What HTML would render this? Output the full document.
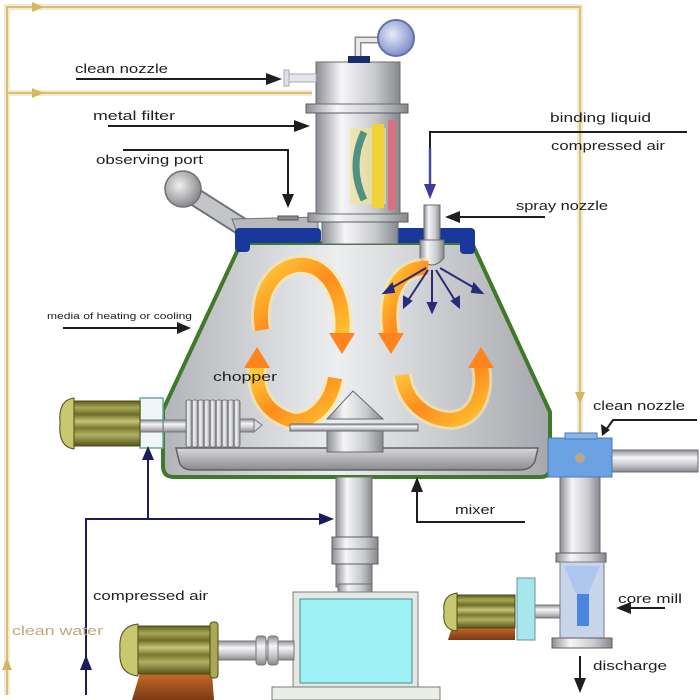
<!DOCTYPE html>
<html><head><meta charset="utf-8"><style>
html,body{margin:0;padding:0;background:#fff;}
svg{display:block}
text{font-family:"Liberation Sans",sans-serif;fill:#1e1e1e;}
</style></head><body>
<svg width="700" height="700" viewBox="0 0 700 700" xmlns="http://www.w3.org/2000/svg">
<defs>
<linearGradient id="metal" x1="0" x2="1" y1="0" y2="0">
 <stop offset="0" stop-color="#8c8e94"/>
 <stop offset="0.3" stop-color="#f6f6f8"/>
 <stop offset="0.7" stop-color="#c9cacd"/>
 <stop offset="1" stop-color="#86888d"/>
</linearGradient>
<linearGradient id="metalV" x1="0" x2="0" y1="0" y2="1">
 <stop offset="0" stop-color="#8c8e94"/>
 <stop offset="0.35" stop-color="#f6f6f8"/>
 <stop offset="0.7" stop-color="#c4c5c8"/>
 <stop offset="1" stop-color="#86888d"/>
</linearGradient>
<linearGradient id="vessel" x1="0" x2="1" y1="0" y2="0">
 <stop offset="0" stop-color="#b2b4b9"/>
 <stop offset="0.45" stop-color="#eceef0"/>
 <stop offset="1" stop-color="#a6a8ad"/>
</linearGradient>
<linearGradient id="bowl" x1="0" x2="0" y1="0" y2="1">
 <stop offset="0" stop-color="#d8d8da"/>
 <stop offset="1" stop-color="#8a8b8e"/>
</linearGradient>
<linearGradient id="og" x1="0" y1="0" x2="1" y2="1">
 <stop offset="0" stop-color="#ffcc3a"/>
 <stop offset="0.5" stop-color="#ff8c1c"/>
 <stop offset="1" stop-color="#ffc030"/>
</linearGradient>
<linearGradient id="olive" x1="0" x2="0" y1="0" y2="1">
 <stop offset="0" stop-color="#5e5c1a"/>
 <stop offset="0.15" stop-color="#a8a858"/>
 <stop offset="0.3" stop-color="#6e6c26"/>
 <stop offset="0.45" stop-color="#c4c47a"/>
 <stop offset="0.6" stop-color="#7a782e"/>
 <stop offset="0.75" stop-color="#b0b064"/>
 <stop offset="1" stop-color="#56541a"/>
</linearGradient>
<linearGradient id="brown" x1="0" x2="0" y1="0" y2="1">
 <stop offset="0" stop-color="#c86a2a"/>
 <stop offset="1" stop-color="#7a3a14"/>
</linearGradient>
<radialGradient id="ball" cx="0.4" cy="0.4" r="0.6">
 <stop offset="0" stop-color="#e6ecfa"/>
 <stop offset="1" stop-color="#8290cc"/>
</radialGradient>
<radialGradient id="gball" cx="0.4" cy="0.4" r="0.6">
 <stop offset="0" stop-color="#f0f0f0"/>
 <stop offset="1" stop-color="#8c8c90"/>
</radialGradient>
</defs>

<!-- tan clean water lines -->
<g fill="none" stroke-linejoin="miter">
 <path d="M7,695 L7,7 L580,7 L580,436 M7,93 L312,93" stroke="#f4ead0" stroke-width="6"/>
 <path d="M7,695 L7,7 L580,7 L580,436 M7,93 L312,93" stroke="#d9c07a" stroke-width="2"/>
</g>
<g fill="#d4b860">
 <polygon points="44,7 32,2 32,12"/>
 <polygon points="44,93 32,88 32,98"/>
 <polygon points="580,404 575,392 585,392"/>
 <polygon points="7,658 2,670 12,670"/>
</g>

<!-- handle / observing port -->
<path d="M184,190 L244,228" stroke="#707276" stroke-width="19" stroke-linecap="round"/>
<path d="M184,190 L244,228" stroke="#c4c5c8" stroke-width="15" stroke-linecap="round"/>
<circle cx="183" cy="189" r="18" fill="url(#gball)" stroke="#6e7074" stroke-width="1.5"/>
<polygon points="232,219 318,217 318,230 236,230" fill="#b8b9bc" stroke="#6e7074"/>
<rect x="278" y="216" width="20" height="4" fill="#8a8b8e" stroke="#555"/>

<!-- vessel -->
<path d="M241,243 L472,243 L550,412 L550,468 Q550,477 540,477 L174,477 Q163,477 163,466 L163,410 Z" fill="url(#vessel)" stroke="#3f7a2a" stroke-width="4"/>
<path d="M176,448 L538,448 L535,461 Q531,470 520,470 L193,470 Q181,470 179,461 Z" fill="url(#bowl)" stroke="#5e6064" stroke-width="1.5"/>

<!-- blue lid -->
<g fill="#18389c">
 <rect x="235" y="228" width="86" height="15" rx="4"/>
 <rect x="235" y="234" width="15" height="18" rx="4"/>
 <rect x="394" y="228" width="81" height="15" rx="4"/>
 <rect x="460" y="234" width="15" height="20" rx="4"/>
</g>

<!-- filter column -->
<rect x="322" y="220" width="76" height="24" fill="url(#metal)" stroke="#6a6c70"/>
<rect x="308" y="213" width="100" height="9" fill="url(#metal)" stroke="#5a5c60"/>
<rect x="316" y="112" width="84" height="102" fill="url(#metal)" stroke="#6a6c70"/>
<rect x="350" y="128" width="36" height="76" fill="#f3e48a" opacity="0.6"/>
<path d="M364,132 Q348,166 364,200" stroke="#4e9286" stroke-width="7" fill="none"/>
<rect x="372" y="124" width="12" height="84" fill="#f0d238"/>
<rect x="388" y="120" width="8" height="90" fill="#d87080"/>
<rect x="306" y="104" width="102" height="9" fill="url(#metal)" stroke="#5a5c60"/>
<rect x="316" y="62" width="84" height="42" fill="url(#metal)" stroke="#6a6c70"/>
<path d="M358,58 L358,40 L380,40" stroke="#8a8c90" stroke-width="7" fill="none"/>
<path d="M358,58 L358,40 L380,40" stroke="#e8e8ea" stroke-width="4" fill="none"/>
<rect x="348" y="56" width="22" height="7" fill="#1a2a6a"/>
<circle cx="396" cy="38" r="18" fill="url(#ball)" stroke="#6670a8" stroke-width="2"/>
<!-- small clean nozzle top -->
<rect x="288" y="74" width="28" height="8" fill="#e4e6ec" stroke="#a8aab4"/>
<rect x="284" y="70" width="5" height="16" fill="#dfe1e8" stroke="#a8aab4"/>

<!-- spray nozzle -->
<rect x="424" y="205" width="16" height="38" fill="url(#metal)" stroke="#6a6c70"/>
<path d="M420,240 L444,240 L444,258 Q432,272 420,258 Z" fill="url(#metal)" stroke="#6a6c70"/>

<!-- orange circulation arrows -->
<g fill="none" stroke-linecap="butt">
 <g stroke="#ffe9a0" stroke-width="20" opacity="0.6">
  <path d="M262,330 C255,285 282,262 305,265 C330,268 346,300 342,335"/>
  <path d="M335,378 C330,410 305,425 290,420 C265,412 255,392 257,366"/>
  <path d="M428,268 C400,266 384,292 391,335"/>
  <path d="M402,375 C406,405 430,420 452,420 C475,418 486,395 481,366"/>
 </g>
 <g stroke="url(#og)" stroke-width="14">
  <path d="M262,330 C255,285 282,262 305,265 C330,268 346,300 342,335"/>
  <path d="M335,378 C330,410 305,425 290,420 C265,412 255,392 257,366"/>
  <path d="M428,268 C400,266 384,292 391,335"/>
  <path d="M402,375 C406,405 430,420 452,420 C475,418 486,395 481,366"/>
 </g>
</g>
<g fill="#ff8420">
 <polygon points="329,333 355,333 342,354"/>
 <polygon points="244,368 270,368 257,347"/>
 <polygon points="378,333 404,333 391,354"/>
 <polygon points="468,368 494,368 481,347"/>
</g>

<!-- spray arrows -->
<g stroke="#2a2a7a" stroke-width="2" fill="#2a2a7a">
 <line x1="426" y1="268" x2="388" y2="290"/><polygon points="384,293 392,284 394,292"/>
 <line x1="428" y1="270" x2="407" y2="302"/><polygon points="404,307 404,297 411,301"/>
 <line x1="432" y1="270" x2="432" y2="307"/><polygon points="432,312 428,303 436,303"/>
 <line x1="436" y1="270" x2="456" y2="302"/><polygon points="459,307 452,301 459,297"/>
 <line x1="440" y1="268" x2="478" y2="290"/><polygon points="482,293 472,292 474,284"/>
</g>

<!-- mixer -->
<polygon points="353,391 327,419 383,419" fill="url(#metal)" stroke="#6a6c70"/>
<rect x="290" y="424" width="128" height="7" fill="url(#metalV)" stroke="#6a6c70"/>
<rect x="327" y="431" width="56" height="21" fill="url(#metal)" stroke="#6a6c70"/>

<!-- chopper -->
<rect x="140" y="420" width="50" height="12" fill="url(#metalV)" stroke="#777"/>
<g fill="url(#metal)" stroke="#666" stroke-width="0.8">
 <rect x="186" y="400" width="6" height="47" rx="2"/>
 <rect x="192" y="400" width="6" height="47" rx="2"/>
 <rect x="198" y="400" width="6" height="47" rx="2"/>
 <rect x="204" y="400" width="6" height="47" rx="2"/>
 <rect x="210" y="400" width="6" height="47" rx="2"/>
 <rect x="216" y="400" width="6" height="47" rx="2"/>
 <rect x="222" y="400" width="6" height="47" rx="2"/>
 <rect x="228" y="400" width="6" height="47" rx="2"/>
 <rect x="234" y="400" width="6" height="47" rx="2"/>
</g>
<rect x="240" y="419" width="14" height="13" fill="url(#metalV)" stroke="#777"/>
<path d="M254,419 L262,425 L254,432 Z" fill="#ddd" stroke="#777"/>
<!-- chopper motor -->
<rect x="140" y="398" width="23" height="50" fill="#eef6f6" stroke="#6aa8a8" stroke-width="1.5"/>
<rect x="140" y="420" width="23" height="12" fill="url(#metalV)" stroke="#777"/>
<rect x="72" y="401" width="68" height="45" fill="url(#olive)" stroke="#4e4c16"/>
<path d="M74,398 Q58,400 60,423 Q58,447 74,449 Z" fill="#c8c870" stroke="#4e4c16"/>

<!-- shaft below vessel -->
<rect x="336" y="477" width="36" height="110" fill="url(#metal)" stroke="#6a6c70"/>
<rect x="332" y="537" width="46" height="27" fill="url(#metal)" stroke="#5a5c60"/>
<line x1="332" y1="549" x2="378" y2="549" stroke="#6a6c70"/>
<rect x="338" y="584" width="34" height="9" fill="url(#metal)" stroke="#6a6c70"/>

<!-- gearbox -->
<rect x="293" y="592" width="125" height="96" fill="#e4e8e4" stroke="#7a7c7a"/>
<rect x="300" y="599" width="112" height="84" fill="#9ef2f6" stroke="#4a8a8a"/>
<rect x="272" y="687" width="168" height="13" fill="#eaece6" stroke="#7a7c7a"/>

<!-- bottom-left motor -->
<rect x="216" y="641" width="78" height="19" fill="url(#metalV)" stroke="#777"/>
<rect x="256" y="636" width="10" height="29" rx="3" fill="url(#metalV)" stroke="#777"/>
<rect x="268" y="636" width="10" height="29" rx="3" fill="url(#metalV)" stroke="#777"/>
<polygon points="140,673 212,673 214,700 132,700" fill="url(#brown)"/>
<rect x="136" y="626" width="80" height="48" fill="url(#olive)" stroke="#4e4c16"/>
<rect x="210" y="622" width="8" height="56" rx="3" fill="#a8a858" stroke="#4e4c16"/>
<path d="M138,624 Q118,626 120,650 Q118,674 138,676 Z" fill="#c8c870" stroke="#4e4c16"/>

<!-- right side: clean nozzle block, pipes, core mill -->
<rect x="612" y="450" width="86" height="22" fill="url(#metalV)" stroke="#6a6c70"/>
<rect x="560" y="477" width="40" height="78" fill="url(#metal)" stroke="#6a6c70"/>
<rect x="556" y="553" width="50" height="9" fill="url(#metal)" stroke="#5a5c60"/>
<rect x="560" y="562" width="44" height="77" fill="#c8d4ea" stroke="#7a7c84"/>
<path d="M564,566 L600,566 L588,594 L576,594 Z" fill="#a8c0ee" opacity="0.8"/>
<rect x="577" y="594" width="12" height="32" fill="#4a86e0"/>
<rect x="552" y="638" width="60" height="10" fill="url(#metal)" stroke="#5a5c60"/>
<rect x="548" y="438" width="64" height="39" fill="#6aa2e4" stroke="#4a78b4"/>
<rect x="565" y="433" width="32" height="6" fill="#8ab4ec" stroke="#4a78b4"/>
<circle cx="580" cy="458" r="5" fill="#e0a860" opacity="0.7"/>
<!-- core mill motor -->
<rect x="535" y="605" width="25" height="13" fill="url(#metalV)" stroke="#777"/>
<rect x="517" y="578" width="18" height="62" fill="#a6e6ec" stroke="#5a9aa0"/>
<polygon points="452,627 515,627 515,640 448,640" fill="url(#brown)"/>
<rect x="455" y="595" width="60" height="33" fill="url(#olive)" stroke="#4e4c16"/>
<path d="M457,593 Q442,595 444,612 Q442,630 457,631 Z" fill="#c8c870" stroke="#4e4c16"/>

<!-- black label arrows -->
<g stroke="#1e1e1e" stroke-width="2" fill="none">
 <line x1="76" y1="79" x2="268" y2="79"/>
 <line x1="108" y1="126" x2="296" y2="126"/>
 <path d="M123,150 L288,150 L288,196"/>
 <path d="M687,132 L430,132 L430,150"/>
 <line x1="545" y1="217" x2="458" y2="217"/>
 <path d="M697,420 L613,420 L606,430"/>
 <line x1="63" y1="328" x2="178" y2="328"/>
 <path d="M525,522 L417,522 L417,490"/>
 <line x1="665" y1="608" x2="630" y2="608"/>
 <line x1="580" y1="656" x2="580" y2="680"/>
</g>
<line x1="430" y1="148" x2="430" y2="186" stroke="#4a4a9a" stroke-width="2.5"/>
<g fill="#1e1e1e">
 <polygon points="282,79 266,73 266,85"/>
 <polygon points="310,126 294,120 294,132"/>
 <polygon points="288,208 282,194 294,194"/>
 <polygon points="445,217 460,211 460,223"/>
 <polygon points="191,328 177,322 177,334"/>
 <polygon points="417,477 411,492 423,492"/>
 <polygon points="602,436 601,424 610,430"/>
 <polygon points="616,608 631,602 631,614"/>
 <polygon points="580,693 574,678 586,678"/>
</g>
<polygon points="430,199 424,184 436,184" fill="#3a3aa0"/>

<!-- navy compressed-air lines -->
<g stroke="#1c1c5c" stroke-width="2" fill="none">
 <path d="M86,695 L86,519 L322,519"/>
 <line x1="148" y1="519" x2="148" y2="458"/>
</g>
<g fill="#1c1c5c">
 <polygon points="334,519 319,513 319,525"/>
 <polygon points="148,446 142,460 154,460"/>
 <polygon points="86,655 80,670 92,670"/>
</g>

<!-- labels -->
<g font-size="13">
 <text x="75" y="73" textLength="93" lengthAdjust="spacingAndGlyphs">clean nozzle</text>
 <text x="93" y="120" textLength="82" lengthAdjust="spacingAndGlyphs">metal filter</text>
 <text x="96" y="164" textLength="107" lengthAdjust="spacingAndGlyphs">observing port</text>
 <text x="550" y="122" textLength="101" lengthAdjust="spacingAndGlyphs">binding liquid</text>
 <text x="551" y="150" textLength="114" lengthAdjust="spacingAndGlyphs">compressed air</text>
 <text x="516" y="210" textLength="92" lengthAdjust="spacingAndGlyphs">spray nozzle</text>
 <text x="213" y="381" textLength="64" lengthAdjust="spacingAndGlyphs">chopper</text>
 <text x="593" y="410" textLength="92" lengthAdjust="spacingAndGlyphs">clean nozzle</text>
 <text x="455" y="514" textLength="40" lengthAdjust="spacingAndGlyphs">mixer</text>
 <text x="618" y="603" textLength="64" lengthAdjust="spacingAndGlyphs">core mill</text>
 <text x="593" y="670" textLength="74" lengthAdjust="spacingAndGlyphs">discharge</text>
 <text x="93" y="600" textLength="115" lengthAdjust="spacingAndGlyphs">compressed air</text>
 <text x="12" y="635" textLength="91" lengthAdjust="spacingAndGlyphs" style="fill:#bfa878">clean water</text>
</g>
<text x="47" y="319" font-size="9.5" textLength="145" lengthAdjust="spacingAndGlyphs">media of heating or cooling</text>
</svg>
</body></html>
